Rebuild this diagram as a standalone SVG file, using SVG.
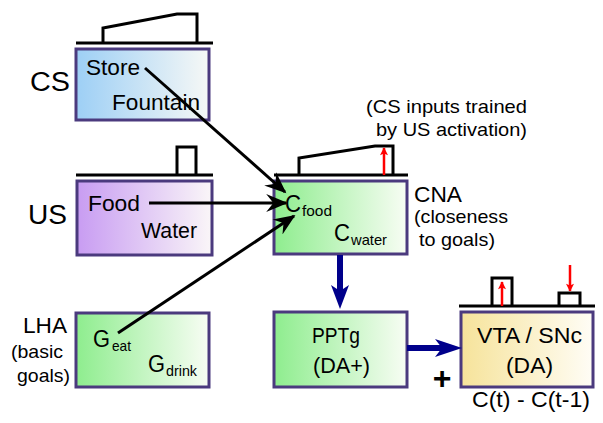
<svg xmlns="http://www.w3.org/2000/svg" width="603" height="423" viewBox="0 0 603 423">
<defs>
<linearGradient id="gBlue" x1="0" x2="1" y1="0" y2="0"><stop offset="0" stop-color="#9dcff5"/><stop offset="1" stop-color="#f6f8f6"/></linearGradient>
<linearGradient id="gPurple" x1="0" x2="1" y1="0" y2="0"><stop offset="0" stop-color="#c89cf2"/><stop offset="1" stop-color="#faf6f8"/></linearGradient>
<linearGradient id="gGreen" x1="0" x2="1" y1="0" y2="0"><stop offset="0" stop-color="#8eed8e"/><stop offset="1" stop-color="#f8fdf4"/></linearGradient>
<linearGradient id="gYellow" x1="0" x2="1" y1="0" y2="0"><stop offset="0" stop-color="#f6e39a"/><stop offset="1" stop-color="#fffdf6"/></linearGradient>
<marker id="ah" viewBox="0 0 12 10" refX="11" refY="5" markerWidth="7.5" markerHeight="6" orient="auto" markerUnits="strokeWidth">
<path d="M0,0 L12,5 L0,10 L4,5 z" fill="#000"/>
</marker>
<marker id="red" viewBox="0 0 10 10" refX="9" refY="5" markerWidth="4" markerHeight="3.2" orient="auto" markerUnits="strokeWidth">
<path d="M0,0 L10,5 L0,10 L2,5 z" fill="#ff0000"/>
</marker>
</defs>
<style>
.box{stroke:#4b3a7e;stroke-width:3}
.t{font-family:"Liberation Sans",Arial,sans-serif;fill:#000}
.bt{font-size:22px}
.lbl{font-size:18.5px}
.big{font-size:27px}
.mid{font-size:22px}
.sub{font-size:15px}
.cg{font-size:23px}
.wave{fill:none;stroke:#000;stroke-width:3}
.base{stroke:#000;stroke-width:3}
.conn{stroke:#000;stroke-width:3;fill:none;marker-end:url(#ah)}
.blue{stroke:#00008b;stroke-width:6;fill:none}
.redl{stroke:#ff0000;stroke-width:2.5;marker-end:url(#red)}
</style>

<g id="cs">
<line class="base" x1="76" y1="43" x2="213" y2="43"/>
<path class="wave" d="M103,43 V28 L177,14 H197 V43"/>
<rect class="box" x="76" y="49" width="133" height="71" fill="url(#gBlue)"/>
<text class="t bt" x="86" y="75" textLength="54" lengthAdjust="spacingAndGlyphs">Store</text>
<text class="t bt" x="112" y="110" textLength="88" lengthAdjust="spacingAndGlyphs">Fountain</text>
<text class="t big" x="30" y="91" textLength="40" lengthAdjust="spacingAndGlyphs">CS</text>
</g>

<g id="us">
<line class="base" x1="76" y1="175" x2="213" y2="175"/>
<path class="wave" d="M177,175 V147 H196 V175"/>
<rect class="box" x="77" y="181" width="135" height="74" fill="url(#gPurple)"/>
<text class="t bt" x="88" y="211" textLength="52" lengthAdjust="spacingAndGlyphs">Food</text>
<text class="t bt" x="141" y="238" textLength="56" lengthAdjust="spacingAndGlyphs">Water</text>
<text class="t big" x="28" y="224" textLength="39" lengthAdjust="spacingAndGlyphs">US</text>
</g>

<g id="cna">
<line class="base" x1="274" y1="175" x2="408" y2="175"/>
<path class="wave" d="M299,175 V158 L375,146 H393 V175"/>
<line class="redl" x1="384" y1="175" x2="384" y2="148"/>
<rect class="box" x="274" y="181" width="133" height="73" fill="url(#gGreen)"/>
<text class="t cg" x="285" y="212" textLength="16" lengthAdjust="spacingAndGlyphs">C</text>
<text class="t sub" x="302" y="216" textLength="30" lengthAdjust="spacingAndGlyphs">food</text>
<text class="t cg" x="334" y="241" textLength="16" lengthAdjust="spacingAndGlyphs">C</text>
<text class="t sub" x="351" y="245" textLength="36" lengthAdjust="spacingAndGlyphs">water</text>
<text class="t mid" x="414" y="202" textLength="48" lengthAdjust="spacingAndGlyphs">CNA</text>
<text class="t lbl" x="414" y="223" textLength="94" lengthAdjust="spacingAndGlyphs">(closeness</text>
<text class="t lbl" x="419" y="246" textLength="76" lengthAdjust="spacingAndGlyphs">to goals)</text>
<text class="t lbl" x="366" y="113" textLength="161" lengthAdjust="spacingAndGlyphs">(CS inputs trained</text>
<text class="t lbl" x="376" y="136" textLength="151" lengthAdjust="spacingAndGlyphs">by US activation)</text>
</g>

<g id="lha">
<rect class="box" x="76" y="313" width="133" height="74" fill="url(#gGreen)"/>
<text class="t cg" x="93" y="347" textLength="17" lengthAdjust="spacingAndGlyphs">G</text>
<text class="t sub" x="112" y="351" textLength="19" lengthAdjust="spacingAndGlyphs">eat</text>
<text class="t cg" x="148" y="372" textLength="17" lengthAdjust="spacingAndGlyphs">G</text>
<text class="t sub" x="166" y="376" textLength="31" lengthAdjust="spacingAndGlyphs">drink</text>
<text class="t mid" x="23" y="333" textLength="44" lengthAdjust="spacingAndGlyphs">LHA</text>
<text class="t lbl" x="11" y="358" textLength="52" lengthAdjust="spacingAndGlyphs">(basic</text>
<text class="t lbl" x="17" y="382" textLength="53" lengthAdjust="spacingAndGlyphs">goals)</text>
</g>

<g id="pptg">
<rect class="box" x="274" y="312" width="133" height="75" fill="url(#gGreen)"/>
<text class="t bt" x="312" y="343" textLength="48" lengthAdjust="spacingAndGlyphs">PPTg</text>
<text class="t bt" x="313" y="373" textLength="57" lengthAdjust="spacingAndGlyphs">(DA+)</text>
</g>

<g id="vta">
<line class="base" x1="459" y1="306" x2="595" y2="306"/>
<path class="wave" d="M492,306 V278 H512 V306"/>
<path class="wave" d="M559,306 V293 H580 V306"/>
<line class="redl" x1="502" y1="306" x2="502" y2="282"/>
<line class="redl" x1="570" y1="265" x2="570" y2="291"/>
<rect class="box" x="461" y="312" width="132" height="75" fill="url(#gYellow)"/>
<text class="t bt" x="477" y="343" textLength="105" lengthAdjust="spacingAndGlyphs">VTA / SNc</text>
<text class="t bt" x="506" y="373" textLength="47" lengthAdjust="spacingAndGlyphs">(DA)</text>
<text class="t bt" x="472" y="407" textLength="118" lengthAdjust="spacingAndGlyphs">C(t) - C(t-1)</text>
<text class="t" x="442" y="389" font-size="32" font-weight="bold" text-anchor="middle">+</text>
</g>

<g id="connectors">
<line class="conn" x1="145" y1="68" x2="285" y2="192"/>
<line class="conn" x1="149" y1="203" x2="286" y2="203"/>
<line class="conn" x1="118" y1="333" x2="294" y2="216"/>
<line class="blue" x1="340" y1="255" x2="340" y2="292"/>
<path d="M331,285 L340,309 L349,285 L340,291 z" fill="#00008b"/>
<line class="blue" x1="407" y1="348" x2="444" y2="348"/>
<path d="M435,339 L462,348 L435,357 L442,348 z" fill="#00008b"/>
</g>
</svg>
